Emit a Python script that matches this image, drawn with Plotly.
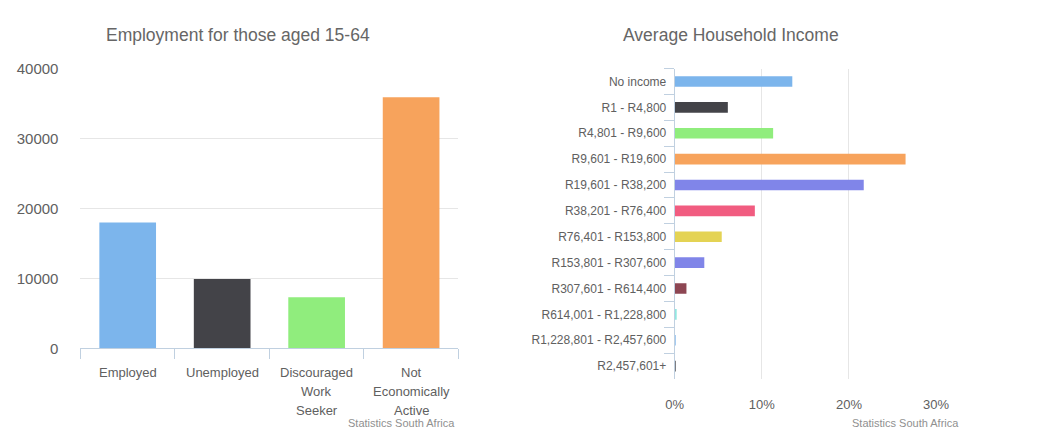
import plotly.graph_objects as go

# Employment for those aged 15-64 (thousands)
emp_categories = ["Employed", "Unemployed", "Discouraged<br>Work<br>Seeker",
                  "Not<br>Economically<br>Active"]
emp_values = [18000, 9900, 7300, 35900]
emp_colors = ["#7cb5ec", "#434348", "#90ed7d", "#f7a35c"]

# Average household income distribution (% of households)
inc_categories = ["No income", "R1 - R4,800", "R4,801 - R9,600", "R9,601 - R19,600",
                  "R19,601 - R38,200", "R38,201 - R76,400", "R76,401 - R153,800",
                  "R153,801 - R307,600", "R307,601 - R614,400", "R614,001 - R1,228,800",
                  "R1,228,801 - R2,457,600", "R2,457,601+"]
inc_values = [13.5, 6.1, 11.3, 26.5, 21.7, 9.2, 5.4, 3.4, 1.35, 0.2, 0.05, 0.03]
inc_colors = ["#7cb5ec", "#434348", "#90ed7d", "#f7a35c", "#8085e9", "#f15c80",
              "#e4d354", "#8085e8", "#8d4653", "#91e8e1", "#7cb5ec", "#434348"]

emp_ticks = [0, 10000, 20000, 30000, 40000]
inc_ticks = [0, 10, 20, 30]
inc_tick_text = ["0%", "10%", "20%", "30%"]

W, H = 1045, 438
FONT = "Liberation Sans, Arial, sans-serif"
AXIS_LINE = "#c0d0e0"
GRID = "#e6e6e6"
LABEL = "#606060"


def px_x(x):
    """Pixel x -> paper fraction."""
    return x / W


def px_y(y):
    """Pixel y (from top) -> paper fraction."""
    return 1 - y / H


fig = go.Figure()

fig.add_trace(go.Bar(
    x=emp_categories, y=emp_values, marker=dict(color=emp_colors, line=dict(width=0)),
    width=0.6, xaxis="x", yaxis="y", showlegend=False, hoverinfo="x+y",
))

fig.add_trace(go.Bar(
    x=inc_values, y=inc_categories, orientation="h",
    marker=dict(color=inc_colors, line=dict(width=0)),
    width=0.41, xaxis="x2", yaxis="y2", showlegend=False, hoverinfo="x+y",
))

annotations = []

# multi-line category labels under the employment chart
for cat in emp_categories:
    for i, line in enumerate(cat.split("<br>")):
        annotations.append(dict(
            x=cat, y=0, xref="x", yref="y", text=line, showarrow=False,
            yanchor="middle", yshift=-24 - 19 * i,
            font=dict(family=FONT, size=13, color=LABEL),
        ))

# chart titles
annotations.append(dict(
    x=px_x(234), y=px_y(27), xref="paper", yref="paper",
    text="Employment for those aged 15-64", showarrow=False,
    xanchor="center", yanchor="middle",
    font=dict(family=FONT, size=17.5, color="#666666"),
))
annotations.append(dict(
    x=px_x(738), y=px_y(27), xref="paper", yref="paper",
    text="Average Household Income", showarrow=False,
    xanchor="center", yanchor="middle",
    font=dict(family=FONT, size=17.5, color="#666666"),
))

# source credits
for xr in (458, 972):
    annotations.append(dict(
        x=px_x(xr), y=px_y(431), xref="paper", yref="paper",
        text="Statistics South Africa", showarrow=False,
        xanchor="right", yanchor="middle",
        font=dict(family=FONT, size=11, color="#909090"),
    ))

fig.update_layout(
    width=W, height=H,
    margin=dict(l=0, r=0, t=0, b=0),
    paper_bgcolor="white", plot_bgcolor="white",
    font=dict(family=FONT, color=LABEL),
    annotations=annotations,
    xaxis=dict(
        domain=[px_x(73), px_x(459)],
        type="category",
        showline=True, linecolor=AXIS_LINE, linewidth=1,
        ticks="outside", tickson="boundaries", ticklen=10, tickcolor=AXIS_LINE,
        showticklabels=False, showgrid=False, fixedrange=True,
    ),
    yaxis=dict(
        domain=[px_y(353), px_y(62)],
        range=[0, 40000], tickvals=emp_ticks, tickformat="d",
        showgrid=True, gridcolor=GRID, zeroline=False, showline=False,
        tickfont=dict(family=FONT, size=15, color=LABEL),
        ticklabelstandoff=21, fixedrange=True,
    ),
    xaxis2=dict(
        domain=[px_x(680), px_x(947)],
        anchor="y2",
        range=[0, 30], tickvals=inc_ticks, ticktext=inc_tick_text,
        showgrid=True, gridcolor=GRID, zeroline=False, showline=False,
        tickfont=dict(family=FONT, size=13, color=LABEL),
        ticklabelstandoff=16, fixedrange=True,
    ),
    yaxis2=dict(
        domain=[px_y(385), px_y(62)],
        anchor="x2",
        type="category", autorange="reversed",
        showline=True, linecolor=AXIS_LINE, linewidth=1,
        ticks="outside", tickson="boundaries", ticklen=10, tickcolor=AXIS_LINE,
        tickfont=dict(family=FONT, size=12, color=LABEL),
        ticklabelstandoff=5,
        showgrid=False, fixedrange=True,
    ),
)

fig.write_html("out.html")
